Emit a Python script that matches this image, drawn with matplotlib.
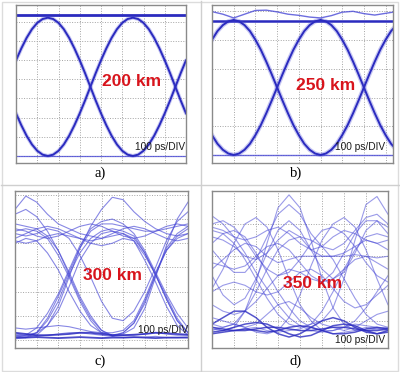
import matplotlib
matplotlib.use('Agg')
import matplotlib.pyplot as plt
from matplotlib.lines import Line2D
from matplotlib.patches import Rectangle
import numpy as np

plt.rcParams['font.family'] = 'Liberation Sans'

W, H = 400, 372

# ---- a) 200 km : time in divisions (100 ps/DIV), amplitude in grid divisions
a_t = np.linspace(0, 8, 33)
a_rise = [2.22, 1.60, 1.05, 0.60, 0.27, 0.07, 0, 0.07, 0.27, 0.60, 1.05, 1.60, 2.22, 2.89, 3.6, 4.31, 4.98,
          5.60, 6.15, 6.60, 6.93, 7.13, 7.2, 7.13, 6.93, 6.60, 6.15, 5.60, 4.98, 4.31, 3.6, 2.89, 2.22]
a_fall = [4.98, 5.60, 6.15, 6.60, 6.93, 7.13, 7.2, 7.13, 6.93, 6.60, 6.15, 5.60, 4.98, 4.31, 3.6, 2.89, 2.22,
          1.60, 1.05, 0.60, 0.27, 0.07, 0, 0.07, 0.27, 0.60, 1.05, 1.60, 2.22, 2.89, 3.6, 4.31, 4.98]
a_levels = [7.32, 0.0]

# ---- b) 250 km
b_t = np.linspace(0, 8.5, 35)
b_rise = [0.69, 0.39, 0.18, 0.05, 0, 0.05, 0.18, 0.39, 0.69, 1.04, 1.45, 1.89, 2.35, 2.81, 3.25, 3.66, 4.01,
          4.31, 4.52, 4.65, 4.7, 4.65, 4.52, 4.31, 4.01, 3.66, 3.25, 2.81, 2.35, 1.89, 1.45, 1.04, 0.69, 0.39, 0.18]
b_fall = [4.01, 4.31, 4.52, 4.65, 4.7, 4.65, 4.52, 4.31, 4.01, 3.66, 3.25, 2.81, 2.35, 1.89, 1.45, 1.04, 0.69,
          0.39, 0.18, 0.05, 0, 0.05, 0.18, 0.39, 0.69, 1.04, 1.45, 1.89, 2.35, 2.81, 3.25, 3.66, 4.01, 4.31, 4.52]
b_top_t = np.linspace(0, 8.5, 18)
b_top = [4.99, 4.9, 4.77, 4.9, 5.03, 5.04, 4.98, 4.9, 4.86, 4.8, 4.77, 4.85, 4.97, 5.0, 4.92, 4.87, 4.93, 4.99]
b_levels = [4.66, 0.0]

# ---- c) 300 km and d) 350 km : traces sampled every half division
cd_t = np.linspace(0, 8, 17)
c_traces = [
    [4.5, 4.6, 4.5, 4.2, 3.5, 2.6, 1.6, 0.8, 0.3, 0.2, 0.3, 0.7, 1.6, 2.7, 3.7, 4.3, 4.6],
    [0.2, 0.15, 0.3, 0.8, 1.6, 2.7, 3.6, 4.2, 4.5, 4.6, 4.5, 4.3, 3.6, 2.7, 1.7, 0.8, 0.3],
    [4.2, 4.4, 4.6, 4.7, 4.6, 4.4, 4.2, 4.1, 4.2, 4.4, 4.6, 4.7, 4.6, 4.4, 4.2, 4.1, 4.2],
    [5.4, 5.95, 5.7, 5.2, 4.8, 4.6, 4.4, 4.3, 4.2, 4.3, 4.4, 4.2, 3.6, 2.7, 1.8, 0.9, 0.3],
    [0.15, 0.1, 0.2, 0.6, 1.4, 2.6, 3.8, 4.7, 5.4, 5.9, 5.8, 5.3, 4.9, 4.6, 4.4, 4.3, 4.4],
    [4.0, 4.2, 4.1, 3.6, 2.9, 2.0, 1.2, 0.6, 0.3, 0.2, 0.25, 0.5, 1.3, 2.6, 3.9, 5.0, 5.7],
    [0.25, 0.2, 0.3, 0.6, 1.2, 2.2, 3.3, 4.0, 4.4, 4.5, 4.4, 4.1, 3.3, 2.4, 1.4, 0.6, 0.2],
    [4.1, 4.0, 4.1, 4.3, 4.4, 4.3, 4.2, 4.0, 3.9, 4.0, 4.2, 4.1, 3.5, 2.7, 1.7, 0.8, 0.3],
    [0.2, 0.2, 0.15, 0.2, 0.25, 0.3, 0.3, 0.25, 0.2, 0.15, 0.3, 0.7, 1.5, 2.7, 3.8, 4.4, 4.7],
    [4.8, 4.7, 4.6, 4.3, 3.7, 2.8, 1.8, 1.0, 0.4, 0.15, 0.1, 0.1, 0.12, 0.15, 0.1, 0.1, 0.12],
    [0.05, 0.1, 0.3, 0.9, 1.8, 2.8, 3.8, 4.5, 4.8, 4.8, 4.7, 4.6, 4.5, 4.5, 4.6, 4.7, 4.8],
    [4.4, 4.3, 4.4, 4.6, 4.5, 4.2, 3.5, 2.6, 1.6, 0.9, 0.8, 1.2, 2.0, 3.0, 4.1, 4.9, 5.3],
    [5.2, 5.4, 5.1, 4.5, 3.7, 2.7, 1.7, 0.9, 0.4, 0.2, 0.2, 0.2, 0.25, 0.3, 0.25, 0.2, 0.2],
    [0.5, 0.45, 0.5, 0.55, 0.6, 0.55, 0.45, 0.35, 0.3, 0.3, 0.4, 0.8, 1.7, 2.8, 3.7, 4.2, 4.4],
    [4.6, 4.5, 4.3, 4.2, 4.3, 4.5, 4.7, 4.8, 4.7, 4.5, 4.3, 4.2, 4.3, 4.5, 4.7, 4.8, 4.7],
    [0.1, 0.2, 0.5, 1.1, 1.9, 2.9, 3.9, 4.6, 4.9, 5.0, 4.8, 4.4, 3.7, 2.8, 1.9, 1.1, 0.5],
]
c_floor = [
    [0.1, 0.1, 0.12, 0.1, 0.08, 0.1, 0.12, 0.1, 0.08, 0.1, 0.1, 0.12, 0.1, 0.08, 0.1, 0.1, 0.1],
    [0.3, 0.25, 0.2, 0.2, 0.22, 0.25, 0.3, 0.3, 0.25, 0.2, 0.2, 0.22, 0.25, 0.3, 0.28, 0.25, 0.22],
]
d_traces = [
    [-0.2, -0.3, -0.2, 0.3, 1.2, 2.4, 3.5, 3.9, 3.5, 2.5, 1.3, 0.4, -0.1, -0.3, -0.3, -0.25, -0.2],
    [-0.25, -0.3, -0.3, -0.25, -0.2, -0.3, -0.35, -0.3, -0.25, -0.1, 0.0, 0.4, 1.3, 2.5, 3.6, 3.85, 3.3],
    [1.0, 1.6, 2.4, 3.0, 3.2, 2.9, 2.2, 1.3, 0.5, 0.0, -0.3, -0.4, -0.35, -0.3, -0.2, -0.25, -0.3],
    [-0.3, -0.2, -0.1, -0.2, -0.35, -0.4, -0.3, 0.1, 0.8, 1.7, 2.5, 3.0, 3.2, 2.9, 2.2, 1.3, 0.5],
    [3.25, 3.0, 2.6, 2.1, 1.5, 1.0, 0.5, 0.1, -0.15, -0.3, -0.35, -0.3, -0.2, -0.1, -0.15, -0.2, -0.25],
    [2.6, 2.5, 2.3, 2.0, 1.9, 2.1, 2.5, 2.8, 2.6, 2.2, 2.0, 2.0, 2.1, 2.3, 2.5, 2.4, 2.2],
    [1.6, 1.9, 2.2, 2.4, 2.3, 2.0, 1.8, 1.9, 2.0, 2.0, 2.0, 2.0, 2.0, 2.05, 2.0, 1.95, 2.0],
    [0.1, 0.0, -0.1, -0.2, -0.1, 0.2, 0.5, 0.6, 0.4, 0.1, -0.1, -0.2, -0.3, -0.2, 0.0, 0.2, 0.3],
    [2.2, 1.8, 1.5, 1.5, 1.9, 2.6, 3.3, 3.6, 3.3, 2.7, 2.3, 2.2, 2.4, 2.8, 3.2, 3.3, 3.0],
    [2.8, 2.7, 2.4, 1.9, 1.3, 0.7, 0.2, -0.1, -0.2, -0.1, 0.3, 0.9, 1.6, 2.2, 2.6, 2.7, 2.6],
    [2.4, 2.7, 2.8, 2.6, 2.1, 1.5, 0.9, 0.4, 0.0, -0.2, -0.3, -0.3, -0.2, 0.0, 0.4, 0.9, 1.4],
    [0.9, 1.1, 1.2, 1.1, 0.9, 0.8, 0.9, 1.2, 1.5, 1.6, 1.4, 1.0, 0.6, 0.4, 0.5, 0.8, 1.1],
    [-0.1, -0.2, -0.1, 0.3, 0.9, 1.6, 2.2, 2.5, 2.6, 2.5, 2.3, 1.9, 1.3, 0.7, 0.2, -0.1, -0.2],
    [1.4, 0.8, 0.5, 0.7, 1.3, 2.1, 2.8, 3.1, 2.8, 2.2, 1.6, 1.3, 1.5, 2.1, 2.8, 3.1, 2.9],
    [1.8, 1.7, 1.6, 1.7, 2.0, 2.3, 2.4, 2.2, 1.8, 1.4, 1.2, 1.3, 1.6, 1.9, 2.0, 1.8, 1.6],
    [3.0, 3.1, 2.9, 2.5, 2.0, 1.6, 1.4, 1.5, 1.9, 2.4, 2.8, 2.9, 2.7, 2.3, 1.8, 1.4, 1.2],
    [0.5, 0.3, 0.2, 0.3, 0.6, 1.0, 1.4, 1.6, 1.5, 1.3, 1.2, 1.5, 2.1, 2.7, 3.1, 3.1, 2.7],
    [2.9, 2.8, 2.6, 2.5, 2.6, 2.8, 2.9, 2.7, 2.4, 2.2, 2.3, 2.6, 2.8, 2.7, 2.5, 2.4, 2.5],
]
d_floor = [
    [-0.2, -0.25, -0.3, -0.3, -0.25, -0.2, -0.2, -0.25, -0.3, -0.3, -0.25, -0.2, -0.2, -0.25, -0.3, -0.3, -0.25],
    [-0.35, -0.3, -0.2, -0.1, -0.05, -0.1, -0.25, -0.4, -0.5, -0.45, -0.3, -0.15, -0.1, -0.15, -0.3, -0.4, -0.35],
    [-0.4, -0.35, -0.3, -0.25, -0.3, -0.35, -0.3, -0.2, -0.15, -0.2, -0.3, -0.4, -0.4, -0.35, -0.25, -0.2, -0.25],
    [-0.1, 0.1, 0.3, 0.3, 0.1, -0.2, -0.4, -0.5, -0.4, -0.2, 0.0, 0.1, 0.0, -0.2, -0.35, -0.4, -0.3],
]

distances = ['200 km', '250 km', '300 km', '350 km']
panel_labels = ['a)', 'b)', 'c)', 'd)']

BLUE = '#2b2bbf'
LIGHT = '#4848d6'
RED = '#d8141c'

fig = plt.figure(figsize=(W / 100, H / 100), dpi=100)
fig.patch.set_facecolor('white')


def px_axes(left, top, right, bottom):
    return fig.add_axes([left / W, 1 - bottom / H, (right - left) / W, (bottom - top) / H])


def scope_style(ax, xlim, ylim, ygrid):
    ax.set_xlim(*xlim)
    ax.set_ylim(*ylim)
    ax.set_xticks(range(9))
    ax.set_yticks(ygrid)
    ax.tick_params(length=0, labelleft=False, labelbottom=False)
    ax.grid(True, color='#a4a4a4', linestyle=(0, (1, 1.6)), linewidth=0.7)
    ax.set_axisbelow(True)
    for s in ax.spines.values():
        s.set_color('#8a8a8a')
        s.set_linewidth(1.0)


def fig_text(x, y, s, **kw):
    fig.text(x / W, 1 - y / H, s, ha='center', va='center', **kw)


# a)
ax = px_axes(16, 5, 186, 163)
scope_style(ax, (0, 8), (-0.365, 7.86), range(8))
ax.axhline(a_levels[0], color=BLUE, lw=2.0)
ax.axhline(a_levels[1], color=LIGHT, lw=0.9, alpha=0.8)
for y in (a_rise, a_fall):
    ax.plot(a_t, y, color=LIGHT, lw=2.8, alpha=0.3, solid_capstyle='round')
    ax.plot(a_t, y, color=BLUE, lw=1.4)

# b)
ax = px_axes(212, 5, 393, 163)
scope_style(ax, (0, 8.34), (-0.28, 5.22), range(6))
ax.axhline(b_levels[0], color=BLUE, lw=1.8)
ax.axhline(b_levels[1], color=LIGHT, lw=1.0, alpha=0.8)
ax.plot(b_top_t, b_top, color=LIGHT, lw=1.0, alpha=0.8)
for y in (b_rise, b_fall):
    ax.plot(b_t, y, color=LIGHT, lw=3.2, alpha=0.3)
    ax.plot(b_t, y, color=BLUE, lw=1.4)

# c)
ax = px_axes(15, 191, 188, 348)
scope_style(ax, (0, 7.97), (-0.33, 6.16), range(7))
for y in c_traces:
    ax.plot(cd_t, y, color=LIGHT, lw=0.8, alpha=0.65, solid_joinstyle='round')
for y in c_floor:
    ax.plot(cd_t, y, color=BLUE, lw=1.3, alpha=0.85)

# d)
ax = px_axes(212, 191, 388, 348)
scope_style(ax, (0, 8), (-0.84, 4.02), range(4))
for y in d_traces:
    ax.plot(cd_t, y, color=LIGHT, lw=0.8, alpha=0.55, solid_joinstyle='round')
for y in d_floor:
    ax.plot(cd_t, y, color=BLUE, lw=1.1, alpha=0.8, solid_joinstyle='round')

# distance labels, time base and captions
for (x, y), s in zip([(132, 82), (326, 86), (113, 276), (313, 283)], distances):
    fig_text(x, y, s, color=RED, fontsize=12.5, fontweight='bold')
for (x, y) in [(185, 147), (385, 147), (188, 330), (385, 340)]:
    fig.text(x / W, 1 - y / H, '100 ps/DIV', ha='right', va='center', fontsize=7.3, color='#1a1a1a')
for (x, y), s in zip([(100, 173), (296, 173), (100, 361), (296, 361)], panel_labels):
    fig_text(x, y, s, fontsize=10.5, family='Liberation Serif', color='black')

# table cell borders
for xy in [((200.5, 200.5), (1, 371)), ((1, 399), (184.5, 184.5))]:
    fig.add_artist(Line2D([xy[0][0] / W, xy[0][1] / W], [1 - xy[1][0] / H, 1 - xy[1][1] / H],
                          color='#cfcfcf', lw=1.0))
fig.add_artist(Rectangle((1.5 / W, 1.5 / H), 396 / W, 369 / H, fill=False, edgecolor='#dcdcdc', lw=1.0))

fig.savefig('out.png', dpi=100, facecolor='white')
